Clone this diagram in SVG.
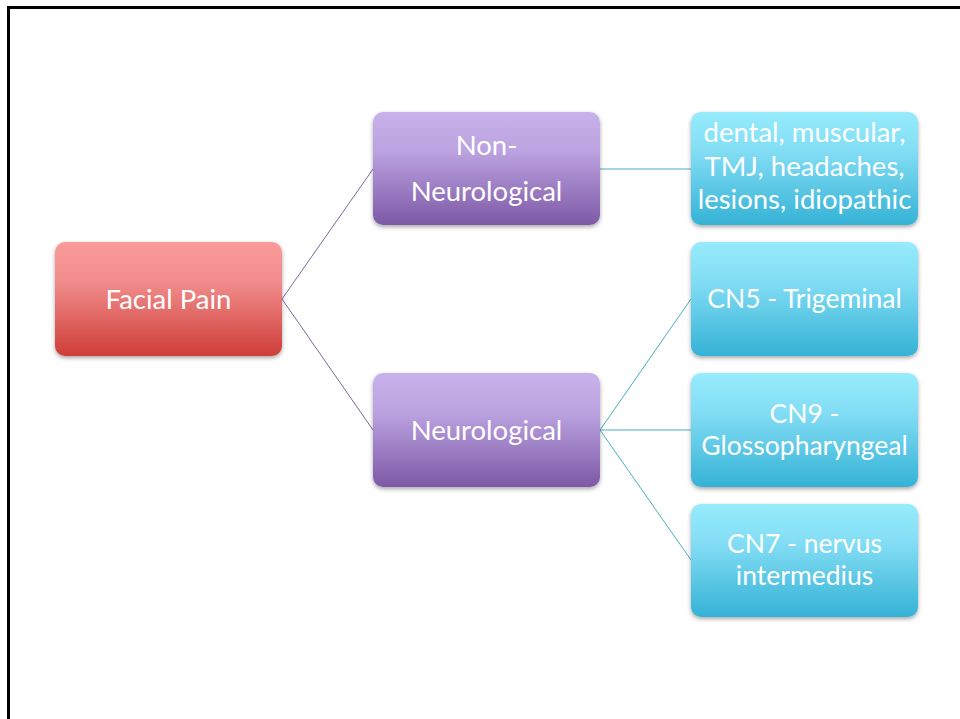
<svg xmlns="http://www.w3.org/2000/svg" width="960" height="719" viewBox="0 0 960 719">
<defs>
<linearGradient id="gRed" x1="0" y1="0" x2="0" y2="1"><stop offset="0" stop-color="#FA9B9A"/><stop offset="0.35" stop-color="#F08C8B"/><stop offset="1" stop-color="#CF3D39"/></linearGradient>
<linearGradient id="gPur" x1="0" y1="0" x2="0" y2="1"><stop offset="0" stop-color="#C8B2EA"/><stop offset="0.35" stop-color="#BBA2E0"/><stop offset="1" stop-color="#7D58A6"/></linearGradient>
<linearGradient id="gCyan" x1="0" y1="0" x2="0" y2="1"><stop offset="0" stop-color="#96EBFC"/><stop offset="0.35" stop-color="#82DDF4"/><stop offset="1" stop-color="#35B2D6"/></linearGradient>
<filter id="sh" x="-10%" y="-10%" width="120%" height="130%"><feDropShadow dx="0" dy="2" stdDeviation="2" flood-color="#000" flood-opacity="0.35"/></filter>
</defs>
<style>
.n{filter:url(#sh)}
.t{font-family:Lato,"Open Sans",sans-serif;fill:#fff;text-anchor:middle}
.big{font-size:27.5px}
.sm{font-size:26.5px}
.xs{font-size:27.5px}
.cp{fill:none;stroke:#8064A2;stroke-width:1}
.cc{fill:none;stroke:#4BACC6;stroke-width:1}
</style>
<rect x="8.5" y="7.5" width="1000" height="1000" fill="none" stroke="#000" stroke-width="3"/>
<g id="connectors">
<path class="cp" d="M282 299 L373 169 M282 299 L373 430"/>
<path class="cc" d="M600 169 L691 169 M600 430 L691 299 M600 430 L691 430 M600 430 L691 560"/>
</g>
<g id="facial-pain">
<rect class="n" x="55" y="242" width="227" height="114" rx="10" fill="url(#gRed)"/>
<text class="t big" x="168.5" y="308.5">Facial Pain</text>
</g>
<g id="non-neurological">
<rect class="n" x="373" y="112" width="227" height="113" rx="10" fill="url(#gPur)"/>
<text class="t big" x="486.5" y="155">Non-</text>
<text class="t big" x="486.5" y="201">Neurological</text>
</g>
<g id="neurological">
<rect class="n" x="373" y="373" width="227" height="114" rx="10" fill="url(#gPur)"/>
<text class="t big" x="486.5" y="439.5">Neurological</text>
</g>
<g id="dental">
<rect class="n" x="691" y="112" width="227" height="113" rx="10" fill="url(#gCyan)"/>
<text class="t xs" x="804.5" y="142">dental, muscular,</text>
<text class="t xs" x="804.5" y="176">TMJ, headaches,</text>
<text class="t xs" x="804.5" y="209">lesions, idiopathic</text>
</g>
<g id="cn5">
<rect class="n" x="691" y="242" width="227" height="114" rx="10" fill="url(#gCyan)"/>
<text class="t sm" x="804.5" y="308">CN5 - Trigeminal</text>
</g>
<g id="cn9">
<rect class="n" x="691" y="373" width="227" height="114" rx="10" fill="url(#gCyan)"/>
<text class="t sm" x="804.5" y="423">CN9 -</text>
<text class="t sm" x="804.5" y="455">Glossopharyngeal</text>
</g>
<g id="cn7">
<rect class="n" x="691" y="504" width="227" height="113" rx="10" fill="url(#gCyan)"/>
<text class="t sm" x="804.5" y="553">CN7 - nervus</text>
<text class="t sm" x="804.5" y="585">intermedius</text>
</g>
</svg>
